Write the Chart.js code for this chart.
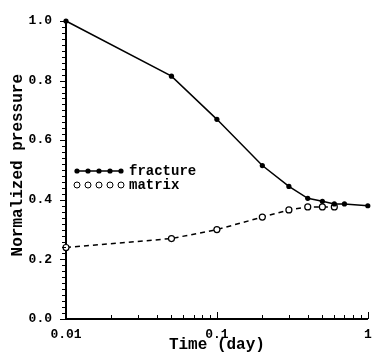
<!DOCTYPE html>
<html>
<head>
<meta charset="utf-8">
<script src="https://cdn.jsdelivr.net/npm/chart.js@4"></script>
<style>
  html, body { margin: 0; padding: 0; background: #fff; }
  #wrap { width: 373px; height: 355px; }
</style>
</head>
<body>
<div id="wrap"><canvas id="chart"></canvas></div>
<script>
// values
const fractureTime = [0.01, 0.05, 0.1, 0.2, 0.3, 0.4, 0.5, 0.6, 0.7, 1];
const fracturePressure = [1.0, 0.815, 0.67, 0.515, 0.445, 0.405, 0.395, 0.386, 0.386, 0.38];
const matrixTime = [0.01, 0.05, 0.1, 0.2, 0.3, 0.4, 0.5, 0.6];
const matrixPressure = [0.24, 0.27, 0.30, 0.342, 0.366, 0.376, 0.376, 0.376];
const xTickLabels = [0.01, 0.1, 1];
const yTickLabels = [0.0, 0.2, 0.4, 0.6, 0.8, 1.0];

const FONT = "'Liberation Mono', monospace";

function toPoints(xs, ys) {
    return xs.map((x, i) => ({ x: x, y: ys[i] }));
}

// draws minor / major tick marks and the little legend
const decorPlugin = {
    id: 'decor',
    afterDraw(chart) {
        const ctx = chart.ctx;
        const xs = chart.scales.x, ys = chart.scales.y;
        const area = chart.chartArea;
        ctx.save();
        ctx.strokeStyle = '#000';
        ctx.lineWidth = 1;
        // y ticks every 0.02, outside the axis
        for (let i = 0; i <= 50; i++) {
            const v = i * 0.02;
            const py = Math.round(ys.getPixelForValue(v)) + 0.5;
            const len = (i % 10 === 0) ? 6 : 4;
            ctx.beginPath();
            ctx.moveTo(area.left - len, py);
            ctx.lineTo(area.left, py);
            ctx.stroke();
        }
        // x log ticks, inside the axis
        for (let d = 0.01; d < 1.5; d *= 10) {
            for (let m = 1; m <= 9; m++) {
                const v = d * m;
                if (v > 1.0001) break;
                const px = Math.round(xs.getPixelForValue(v)) + 0.5;
                const len = (m === 1) ? 7 : 4;
                ctx.beginPath();
                ctx.moveTo(px, area.bottom);
                ctx.lineTo(px, area.bottom - len);
                ctx.stroke();
            }
        }
        // legend
        const sets = chart.data.datasets;
        const lx = area.left + 11;
        const rows = [area.top + 150, area.top + 164];
        ctx.font = "bold 14px " + FONT;
        ctx.textBaseline = 'middle';
        ctx.fillStyle = '#000';
        sets.forEach((ds, i) => {
            const y = rows[i];
            if (i === 0) {
                ctx.lineWidth = 1.5;
                ctx.beginPath();
                ctx.moveTo(lx, y);
                ctx.lineTo(lx + 44, y);
                ctx.stroke();
            }
            for (let k = 0; k < 5; k++) {
                ctx.beginPath();
                ctx.arc(lx + k * 11, y, i === 0 ? 2.6 : 3, 0, Math.PI * 2);
                ctx.lineWidth = 1;
                if (i === 0) ctx.fill(); else ctx.stroke();
            }
            ctx.fillText(ds.label, lx + 52, y);
        });
        ctx.restore();
    }
};

new Chart(document.getElementById('chart'), {
    type: 'scatter',
    data: {
        datasets: [
            {
                label: 'fracture',
                data: toPoints(fractureTime, fracturePressure),
                showLine: true,
                borderColor: '#000',
                backgroundColor: '#000',
                borderWidth: 1.5,
                pointRadius: 2.6,
                pointBackgroundColor: '#000',
                pointBorderWidth: 0,
                clip: false
            },
            {
                label: 'matrix',
                data: toPoints(matrixTime, matrixPressure),
                showLine: true,
                borderColor: '#000',
                backgroundColor: '#fff',
                borderWidth: 1.5,
                borderDash: [5, 4],
                pointRadius: 3,
                pointBackgroundColor: '#fff',
                pointBorderColor: '#000',
                pointBorderWidth: 1.2,
                clip: false
            }
        ]
    },
    options: {
        responsive: true,
        maintainAspectRatio: false,
        animation: false,
        layout: { padding: { top: 21, right: 4, left: 0, bottom: 0 } },
        plugins: {
            legend: { display: false },
            tooltip: { enabled: false }
        },
        scales: {
            x: {
                type: 'logarithmic',
                min: 0.01,
                max: 1,
                grid: { display: false, drawTicks: false },
                border: { display: true, color: '#000', width: 2 },
                afterBuildTicks: function(scale) {
                    scale.ticks = xTickLabels.map(v => ({ value: v }));
                },
                afterFit: function(scale) {
                    scale.height = 36;
                    scale.paddingLeft = 0;
                    scale.paddingRight = 0;
                },
                ticks: {
                    color: '#000',
                    font: { family: FONT, size: 13, weight: 'bold' },
                    padding: 8,
                    maxRotation: 0,
                    autoSkip: false,
                    callback: function(value) { return String(value); }
                },
                title: {
                    display: true,
                    text: 'Time (day)',
                    color: '#000',
                    font: { family: FONT, size: 16, weight: 'bold' },
                    padding: { top: 0, bottom: 0 }
                }
            },
            y: {
                min: 0,
                max: 1,
                grid: { display: false, drawTicks: false },
                border: { display: true, color: '#000', width: 2 },
                afterBuildTicks: function(scale) {
                    scale.ticks = yTickLabels.map(v => ({ value: v }));
                },
                afterFit: function(scale) {
                    scale.width = 66;
                    scale.paddingTop = 0;
                    scale.paddingBottom = 0;
                },
                ticks: {
                    color: '#000',
                    font: { family: FONT, size: 13, weight: 'bold' },
                    padding: 14,
                    callback: function(value) { return value.toFixed(1); }
                },
                title: {
                    display: true,
                    text: ' Normalized pressure',
                    color: '#000',
                    font: { family: FONT, size: 16, weight: 'bold' },
                    padding: { top: 8, bottom: 0 }
                }
            }
        }
    },
    plugins: [decorPlugin]
});
</script>
</body>
</html>
